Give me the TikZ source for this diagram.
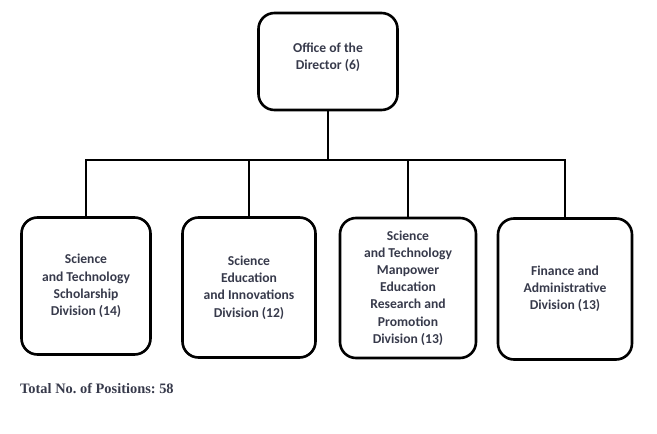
\documentclass[tikz,border=0pt]{standalone}
\usepackage{fontspec}
\setmainfont{Carlito}
\newfontfamily\footfont{Liberation Serif}
\definecolor{txt}{RGB}{55,58,75}
\frenchspacing
\tikzset{
  unitbox/.style={draw=black, line width=2.6pt, rounded corners=16pt, align=center,
    text=txt, font=\bfseries\fontsize{13.6}{17.2}\selectfont, inner sep=0pt},
  unittext/.style={align=center, text=txt, font=\bfseries\fontsize{13.6}{17.2}\selectfont, inner sep=0pt},
  conn/.style={draw=black, line width=2.5pt}
}
\begin{document}
\begin{tikzpicture}[x=1pt,y=-1pt]
\useasboundingbox (0,0) rectangle (657,434);
\node[unitbox, minimum width=139pt, minimum height=97pt] (dir) at (328,61.5) {};
\node[unittext] (dirtext) at (328,57) {Office of the\\Director (6)};
\node[unitbox, minimum width=129pt, minimum height=137pt] (d1) at (86,286) {Science\\and Technology\\Scholarship\\Division (14)};
\node[unitbox, minimum width=133pt, minimum height=140pt] (d2) at (249,287.5) {Science\\Education\\and Innovations\\Division (12)};
\node[unitbox, minimum width=136pt, minimum height=140pt] (d3) at (408,288) {Science\\and Technology\\Manpower\\Education\\Research and\\Promotion\\Division (13)};
\node[unitbox, minimum width=134pt, minimum height=141pt] (d4) at (565,289) {Finance and\\Administrative\\Division (13)};
\coordinate (bar) at (328,160);
\draw[conn] (dir.south) -- (bar);
\draw[conn] (d1.north) |- (bar) -| (d4.north);
\draw[conn] (d2.north) -- (d2.north |- bar);
\draw[conn] (d3.north) -- (d3.north |- bar);
\node[anchor=west, inner sep=0pt, text=txt, font=\footfont\bfseries\fontsize{14.4}{16}\selectfont] (tot) at (20,389) {Total No. of Positions: 58};
\end{tikzpicture}
\end{document}
